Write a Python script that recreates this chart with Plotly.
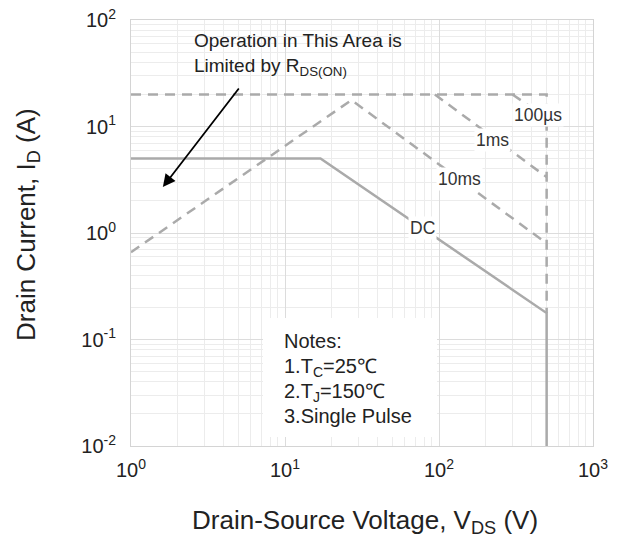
import numpy as np
import plotly.graph_objects as go

# ---- data (V in volts, I in amps) ----
v_limit = [1, 500, 500]
i_limit = [20, 20, 0.177]
v_100us = [300, 500]
i_100us = [20, 12]
v_1ms = [94, 500]
i_1ms = [20, 3.35]
v_10ms = [1, 27, 500]
i_10ms = [0.66, 17.7, 0.8]
v_dc = [1, 17, 500, 500]
i_dc = [5, 5, 0.177, 0.01]

x_tick_vals = [1, 10, 100, 1000]
x_tick_text = ["10<sup>0</sup>", "10<sup>1</sup>", "10<sup>2</sup>", "10<sup>3</sup>"]
y_tick_vals = [0.01, 0.1, 1, 10, 100]
y_tick_text = ["10<sup>-2</sup>", "10<sup>-1</sup>", "10<sup>0</sup>", "10<sup>1</sup>", "10<sup>2</sup>"]

curve_labels = ["100µs", "1ms", "10ms", "DC"]
curve_label_v = [440, 224, 135, 77.6]
curve_label_i = [12.8, 7.46, 3.21, 1.11]

notes = ["Notes:", "1.T<sub>C</sub>=25℃", "2.T<sub>J</sub>=150℃", "3.Single Pulse"]

FONT = "Liberation Sans, Arial, sans-serif"
LC = "#aaaaaa"
W, H = 621, 538
OFF = 8  # default page body margin
PL, PR, PT, PB = 131, 593, 20, 446  # plot area in screen pixels


def px(x):
    return (x - PL) / (PR - PL)


def py(y):
    return (PB - y) / (PB - PT)


fig = go.Figure()
dash = "10px,7px"
for xs, ys in [(v_limit, i_limit), (v_100us, i_100us), (v_1ms, i_1ms), (v_10ms, i_10ms)]:
    fig.add_trace(go.Scatter(x=xs, y=ys, mode="lines",
                             line=dict(color=LC, width=2.5, dash=dash)))
fig.add_trace(go.Scatter(x=v_dc, y=i_dc, mode="lines",
                         line=dict(color=LC, width=2.5)))

minor_x = [m * 10 ** d for d in range(0, 3) for m in range(2, 10)]
minor_y = [m * 10.0 ** d for d in range(-2, 2) for m in range(2, 10)]

common = dict(type="log", showgrid=True, gridcolor="#dcdcdc", gridwidth=1,
              showline=True, linecolor="#d4d4d4", linewidth=1, mirror=True,
              ticks="", ticklabeloverflow="allow", automargin=False,
              tickfont=dict(family=FONT, size=20, color="#222"), zeroline=False)
fig.update_xaxes(range=[0, 3], tickvals=x_tick_vals, ticktext=x_tick_text,
                 minor=dict(tickvals=minor_x, showgrid=True, gridcolor="#ececec", gridwidth=1),
                 ticklabelstandoff=6, **common)
fig.update_yaxes(range=[-2, 2], tickvals=y_tick_vals, ticktext=y_tick_text,
                 minor=dict(tickvals=minor_y, showgrid=True, gridcolor="#ececec", gridwidth=1),
                 ticklabelstandoff=10, **common)

ann = []
for t, v, i in zip(curve_labels, curve_label_v, curve_label_i):
    ann.append(dict(x=np.log10(v), y=np.log10(i), xref="x", yref="y", text=t,
                    showarrow=False, bgcolor="white", xanchor="center", yanchor="middle",
                    font=dict(family=FONT, size=17.5, color="#333")))
ann.append(dict(x=px(192), y=py(55), xref="paper", yref="paper",
                text="Operation in This Area is<br>Limited by R<sub>DS(ON)</sub>",
                showarrow=False, xanchor="left", yanchor="middle", align="left",
                font=dict(family=FONT, size=19, color="#222")))
ann.append(dict(x=np.log10(1.61), y=np.log10(2.7), xref="x", yref="y",
                ax=np.log10(5.1), ay=np.log10(23.5), axref="x", ayref="y",
                text="", showarrow=True, arrowhead=2, arrowsize=1.4, arrowwidth=1.8,
                arrowcolor="black"))
for t, yy in zip(notes, [341, 367, 392, 416]):
    ann.append(dict(x=px(282), y=py(yy), xref="paper", yref="paper", text=t, showarrow=False,
                    xanchor="left", yanchor="middle",
                    font=dict(family=FONT, size=20, color="#222")))
ann.append(dict(x=px(28), y=py(225), xref="paper", yref="paper",
                text="Drain Current, I<sub>D</sub> (A)", textangle=-90, showarrow=False,
                xanchor="center", yanchor="middle",
                font=dict(family=FONT, size=26, color="#222")))
ann.append(dict(x=px(365), y=py(521), xref="paper", yref="paper",
                text="Drain-Source Voltage, V<sub>DS</sub> (V)", showarrow=False,
                xanchor="center", yanchor="middle",
                font=dict(family=FONT, size=26, color="#222")))

shapes = [dict(type="rect", xref="paper", yref="paper",
               x0=px(263), x1=px(437), y0=py(437), y1=py(318),
               fillcolor="white", line=dict(width=0), layer="above")]

fig.update_layout(width=W, height=H,
                  margin=dict(l=PL - OFF, r=W - PR + OFF, t=PT - OFF, b=H - PB + OFF),
                  plot_bgcolor="white", paper_bgcolor="white", showlegend=False,
                  annotations=ann, shapes=shapes)
fig.write_html("out.html")
